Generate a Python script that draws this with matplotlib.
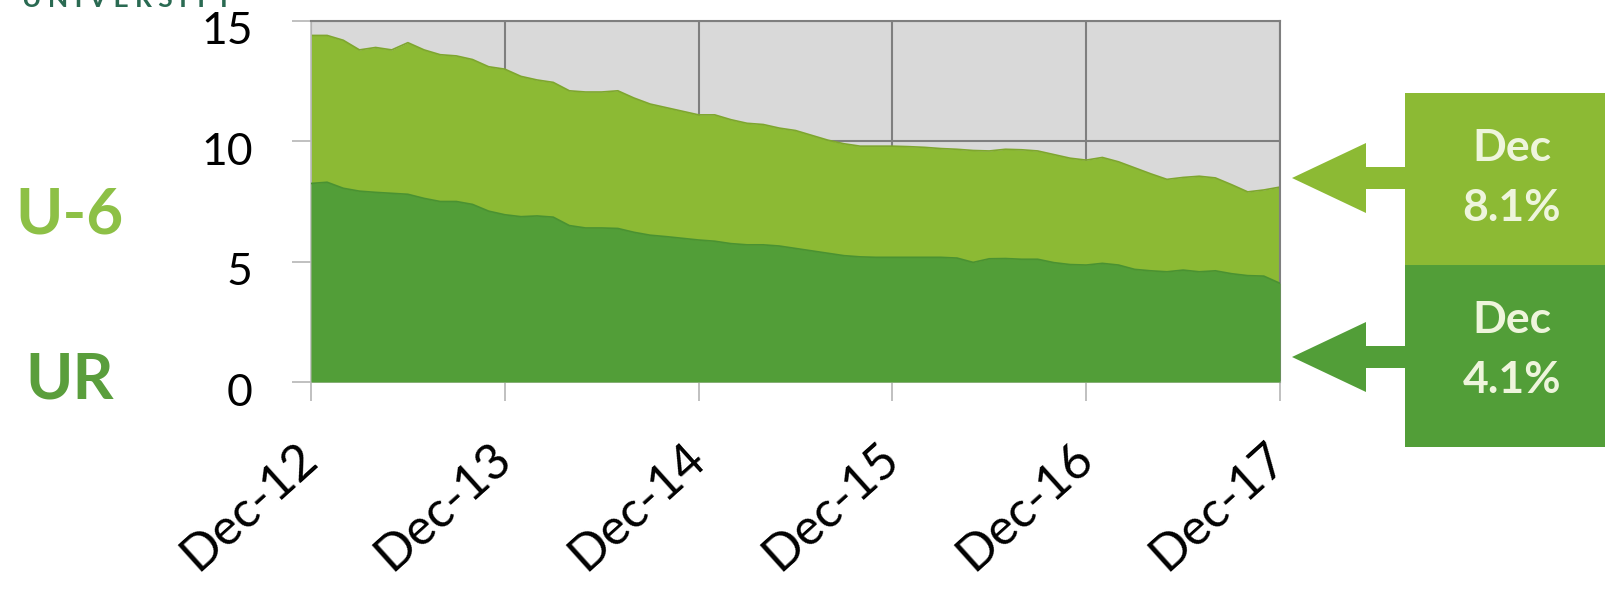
import numpy as np
import matplotlib
matplotlib.use("Agg")
import matplotlib.pyplot as plt
import matplotlib.transforms as mtransforms
from matplotlib.patches import Polygon, Rectangle

plt.rcParams['font.family'] = ['Lato', 'DejaVu Sans']

# monthly rates, Dec-12 .. Dec-17
u6 = [14.4, 14.4, 14.2, 13.8, 13.9, 13.8, 14.1, 13.8, 13.6, 13.55, 13.4, 13.1,
      13.0, 12.7, 12.55, 12.45, 12.1, 12.05, 12.05, 12.1, 11.8, 11.55, 11.4, 11.25,
      11.1, 11.1, 10.9, 10.75, 10.7, 10.55, 10.45, 10.25, 10.05, 9.9, 9.8, 9.8,
      9.8, 9.78, 9.75, 9.7, 9.67, 9.62, 9.6, 9.67, 9.65, 9.6, 9.45, 9.3,
      9.22, 9.33, 9.15, 8.9, 8.65, 8.42, 8.5, 8.55, 8.48, 8.2, 7.9, 7.98,
      8.1]
ur = [8.25, 8.3, 8.05, 7.93, 7.88, 7.84, 7.8, 7.63, 7.5, 7.5, 7.38, 7.1,
      6.95, 6.87, 6.9, 6.85, 6.5, 6.4, 6.4, 6.38, 6.22, 6.1, 6.04, 5.97,
      5.9, 5.85, 5.75, 5.7, 5.7, 5.65, 5.55, 5.45, 5.35, 5.25, 5.2, 5.18,
      5.18, 5.18, 5.18, 5.18, 5.15, 4.97, 5.12, 5.13, 5.1, 5.1, 4.96, 4.88,
      4.86, 4.93, 4.86, 4.68, 4.62, 4.58, 4.65, 4.58, 4.62, 4.5, 4.42, 4.4,
      4.1]
tick_months = [0, 12, 24, 36, 48, 60]
tick_labels = ["Dec-12", "Dec-13", "Dec-14", "Dec-15", "Dec-16", "Dec-17"]
y_ticks = [0, 5, 10, 15]

LIGHT = "#8cba34"
DARK = "#529e38"
BOX_TEXT = "#eef5dc"
W, H = 1606, 591

months = np.arange(len(u6))

fig = plt.figure(figsize=(W / 100, H / 100), dpi=100)
ax = fig.add_axes([311 / W, 1 - 382 / H, 969 / W, 361 / H])
ax.set_facecolor("#d9d9d9")

ax.fill_between(months, 0, u6, color=LIGHT, lw=0, zorder=2)
ax.plot(months, u6, color="#7ea62e", lw=1.2, zorder=2.5)
ax.fill_between(months, 0, ur, color=DARK, lw=0, zorder=3)
ax.plot(months, ur, color="#4a9232", lw=1.2, zorder=3.5)

ax.set_xlim(0, 60)
ax.set_ylim(0, 15)
ax.set_axisbelow(True)
ax.grid(True, color="#7f7f7f", lw=1.5, zorder=1)

ax.set_yticks(y_ticks)
ax.set_yticklabels([str(v) for v in y_ticks])
ax.set_xticks(tick_months)
ax.set_xticklabels(tick_labels, rotation=42, ha="right", va="center",
                   rotation_mode="anchor")
ax.tick_params(axis="y", length=14, width=1.2, color="#b5b5b5", pad=28,
               labelsize=32)
ax.tick_params(axis="x", length=14, width=1.2, color="#b5b5b5", pad=36,
               labelsize=36)

# y labels sit a little below their ticks
shift = mtransforms.ScaledTranslation(0, -7 / 100, fig.dpi_scale_trans)
for lab in ax.get_yticklabels():
    lab.set_transform(lab.get_transform() + shift)

for side in ["left", "bottom"]:
    ax.spines[side].set_color("#bdbdbd")
    ax.spines[side].set_linewidth(1.2)
for side in ["top", "right"]:
    ax.spines[side].set_color("#7f7f7f")
    ax.spines[side].set_linewidth(1.5)

# series names on the left
fig.text(15 / W, 1 - 215 / H, "U-6", color="#8dc046", fontsize=46,
         fontweight="bold", ha="left", va="center")
fig.text(25 / W, 1 - 380 / H, "UR", color="#5a9e3c", fontsize=46,
         fontweight="bold", ha="left", va="center")

# clipped header text
fig.text(232 / W, 1 - 7 / H, "U N I V E R S I T Y", color="#2a6a52",
         fontsize=19, fontweight="bold", ha="right", va="baseline")


def px(x, y):
    return (x / W, 1 - y / H)


def callout(y_mid, color, y_top, y_bot, label):
    fig.add_artist(Rectangle(px(1405, y_bot), (W - 1405) / W,
                             (y_bot - y_top) / H, transform=fig.transFigure,
                             color=color, lw=0))
    pts = [(1405, y_mid - 11), (1366, y_mid - 11), (1366, y_mid - 35),
           (1292, y_mid), (1366, y_mid + 35), (1366, y_mid + 11),
           (1405, y_mid + 11)]
    fig.add_artist(Polygon([px(*p) for p in pts], closed=True,
                           transform=fig.transFigure, color=color, lw=0))
    fig.text(1512 / W, 1 - (y_top + 55) / H, "Dec", color=BOX_TEXT,
             fontsize=32, fontweight="bold", ha="center", va="center")
    fig.text(1512 / W, 1 - (y_top + 115) / H, label, color=BOX_TEXT,
             fontsize=32, fontweight="bold", ha="center", va="center")


callout(178, LIGHT, 93, 265, f"{u6[-1]:.1f}%")
callout(357, DARK, 265, 447, f"{ur[-1]:.1f}%")

fig.savefig("out.png", dpi=100)
